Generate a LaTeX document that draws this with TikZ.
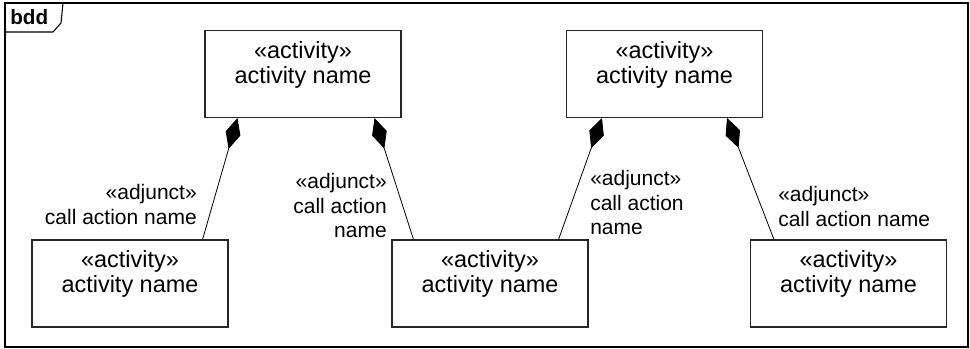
\documentclass[tikz,border=0pt]{standalone}
\usepackage{fontspec}
\setmainfont{Liberation Sans}
\usetikzlibrary{arrows.meta}

\tikzset{
    block/.style={draw=black!85, line width=0.8pt, minimum width=147pt,
        minimum height=65.25pt, inner sep=0pt},
    blocktext/.style={anchor=north, inner sep=0pt, align=center,
        font=\fontsize{17.6}{18.75}\selectfont},
    role/.style={inner sep=0pt, font=\fontsize{15.75}{18.4}\selectfont},
    part/.style={{Diamond[length=24pt,width=11.5pt]}-, line width=0.6pt},
}

\begin{document}
\begin{tikzpicture}[x=0.75pt, y=-0.75pt]
    \useasboundingbox (0,0) rectangle (970,349);
    % frame
    \draw[line width=0.9pt] (5,3) rectangle (968,347);
    \draw[line width=0.8pt] (5,32) -- (53,32) -- (61,23) -- (63,3);
    \node[anchor=base west, inner sep=0pt, font=\bfseries\fontsize{15.5}{15.5}\selectfont] (title) at (10,25) {bdd};
    % activities
    \node[block] (A) at (303,74) {};
    \node[block] (B) at (664.5,74) {};
    \node[block] (C) at (130,283.5) {};
    \node[block] (D) at (490,283.5) {};
    \node[block] (E) at (848.5,283.5) {};
    \node[blocktext] (At) at ([yshift=-8.25pt]A.north) {«activity»\\activity name};
    \node[blocktext] (Bt) at ([yshift=-8.25pt]B.north) {«activity»\\activity name};
    \node[blocktext] (Ct) at ([yshift=-8.25pt]C.north) {«activity»\\activity name};
    \node[blocktext] (Dt) at ([yshift=-8.25pt]D.north) {«activity»\\activity name};
    \node[blocktext] (Et) at ([yshift=-8.25pt]E.north) {«activity»\\activity name};
    % adjunct parts
    \draw[part] ([xshift=24.75pt]A.south west) -- ([xshift=-19.5pt]C.north east);
    \draw[part] ([xshift=-20.25pt]A.south east) -- ([xshift=16.5pt]D.north west);
    \draw[part] ([xshift=27pt]B.south west) -- ([xshift=-22.5pt]D.north east);
    \draw[part] ([xshift=-27pt]B.south east) -- ([xshift=18pt]E.north west);
    \node[role, anchor=north east, align=right] (r1) at (197,184) {«adjunct»\\call action name};
    \node[role, anchor=north east, align=right] (r2) at (387,173) {«adjunct»\\call action\\name};
    \node[role, anchor=north west, align=left] (r3) at (590,170) {«adjunct»\\call action\\name};
    \node[role, anchor=north west, align=left] (r4) at (778,186) {«adjunct»\\call action name};
\end{tikzpicture}
\end{document}
